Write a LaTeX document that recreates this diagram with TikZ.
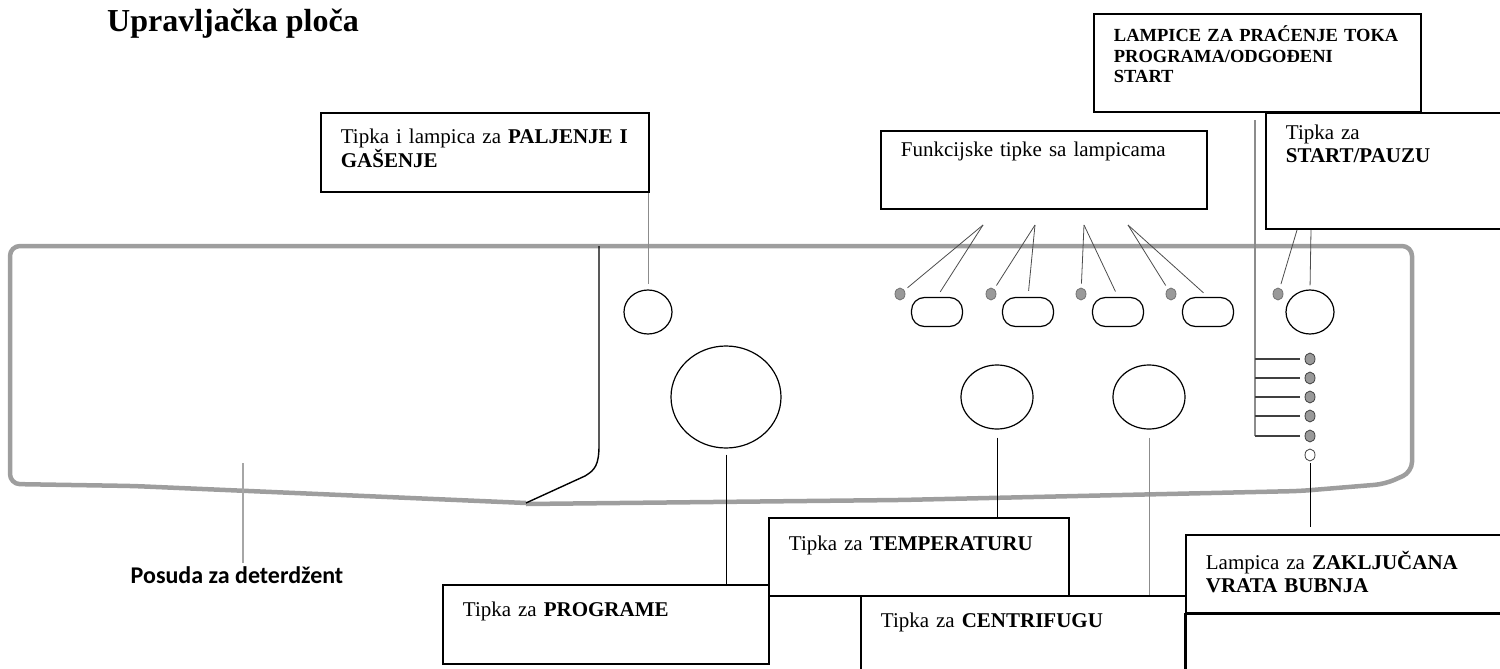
\documentclass[tikz,border=0pt]{standalone}
\usepackage{fontspec}
\setmainfont{Liberation Serif}
\newfontfamily\drawerfont{Carlito}
\usetikzlibrary{shapes.geometric}

\begin{document}
\begin{tikzpicture}[
  x=1pt, y=-1pt,
  panel/.style={draw=black!38, line width=4.5pt, rounded corners=10pt},
  callout/.style={draw, line width=1.8pt, fill=white, anchor=north west, align=left,
                  inner xsep=20pt, inner ysep=0pt, font=\fontsize{21}{24}\selectfont},
  knob/.style={draw, ellipse, line width=1.2pt, inner sep=0pt},
  pill/.style={draw, rounded corners=13pt, line width=1.2pt, minimum width=51pt,
               minimum height=29pt, inner sep=0pt},
  led/.style={draw=black!55, fill=black!40, ellipse, line width=0.8pt,
              minimum width=10pt, minimum height=12pt, inner sep=0pt},
  lamp/.style={led, draw=black!75},
  lead/.style={draw=black, line width=1pt},
  fan/.style={draw=black!70, line width=0.8pt, shorten >=4pt},
]
\useasboundingbox (0,0) rectangle (1500,669);
\clip (0,0) rectangle (1500,669);
% ---- title ----
\node[font=\bfseries\fontsize{32}{36}\selectfont, anchor=base west,
      inner sep=0pt] (title) at (107,32) {Upravljačka ploča};
% ---- panel outline and drawer ----
\draw[panel] (526,503) -- (133,486) -- (10,484) -- (10,246) -- (1412,246)
  -- (1412,472) -- (1385,484) -- (1300,491) -- (900,500) -- (526,504);
\draw[line width=1.4pt] (599,246) -- (599,445) .. controls (599,465) and (595,470) .. (585,476)
  -- (526,503);
% ---- buttons and knobs ----
\node[knob, minimum width=48pt, minimum height=44pt] (pwr) at (648,312) {};
\node[knob, minimum width=110pt, minimum height=102pt] (prog) at (726,397) {};
\node[knob, minimum width=72pt, minimum height=64pt] (tmp) at (997,397) {};
\node[knob, minimum width=72pt, minimum height=64pt] (spin) at (1149,397) {};
\node[knob, minimum width=48pt, minimum height=44pt] (strt) at (1310,312) {};
\foreach \i/\x in {1/900, 2/991, 3/1081, 4/1171} {
  \node[led] (l\i) at (\x,294) {};
  \node[pill] (p\i) at (\x+37,312) {};
}
\node[led] (ls) at (1278,294) {};
% ---- program lamps ----
\foreach \i/\y in {1/359, 2/378, 3/397, 4/416, 5/436}
  \node[lamp] (d\i) at (1310,\y) {};
\node[lamp, fill=white] (d6) at (1310,455) {};
\coordinate (brtop) at (1255,120);
\draw[draw=black!45, line width=1.3pt] (brtop) -- (brtop |- d5);
\foreach \i in {1,...,5}
  \draw[draw=black!75, line width=1.3pt, shorten >=5pt] (d\i -| brtop) -- (d\i);
% ---- leaders ----
\foreach \i/\x in {1/983, 2/1035, 3/1084, 4/1128} {
  \coordinate (fa\i) at (\x,225);
  \draw[fan] (fa\i) -- (l\i);
  \draw[fan, shorten >=6pt] (fa\i) -- (p\i.north);
}
\coordinate (sa1) at (1297,230);
\coordinate (sa2) at (1311,230);
\draw[fan] (sa1) -- (ls);
\draw[fan] (sa2) -- (strt.north);
\coordinate (drawer) at (243,463);
% ---- callout boxes ----
\node[callout, text width=288pt, text height=31pt, text depth=48pt] (pwrbox) at (320,112)
  {Tipka i lampica za \textbf{PALJENJE I}\\\textbf{GAŠENJE}};
\node[callout, text width=286pt, text height=26pt, text depth=52pt] (fnbox) at (880,130)
  {Funkcijske tipke sa lampicama};
\node[callout, font=\bfseries\fontsize{18.5}{20.5}\selectfont, text width=287pt,
      text height=28pt, text depth=70pt] (lampbox) at (1093,13)
  {LAMPICE ZA PRAĆENJE TOKA\\PROGRAMA/ODGOĐENI\\START};
\node[callout, font=\fontsize{21}{23}\selectfont, text width=230pt, text height=27pt,
      text depth=89pt] (startbox) at (1265,112) {Tipka za\\\textbf{START/PAUZU}};
\node[callout, text width=286pt, text height=32pt, text depth=47pt] (progbox) at (442,584)
  {Tipka za \textbf{PROGRAME}};
\node[callout, text width=260pt, text height=33pt, text depth=45pt] (tmpbox) at (768,517)
  {Tipka za \textbf{TEMPERATURU}};
\node[callout, text width=285pt, text height=32pt, text depth=70pt] (spinbox) at (860,595)
  {Tipka za \textbf{CENTRIFUGU}};
\node[callout, font=\fontsize{21}{23}\selectfont, text width=290pt, text height=35pt,
      text depth=43pt] (lockbox) at (1185,534)
  {Lampica za \textbf{ZAKLJUČANA}\\\textbf{VRATA BUBNJA}};
\draw[line width=1.8pt] (lockbox.south west) rectangle ++(340,100);
\node[font=\drawerfont\bfseries\fontsize{24}{26}\selectfont] (posuda) at (237,575)
  {Posuda za deterdžent};
% ---- leaders to boxes ----
\draw[lead, draw=black!45, shorten >=5pt] (pwrbox.south -| pwr) -- (pwr.north);
\draw[lead, shorten <=6pt] (prog.south) -- (prog.south |- progbox.north);
\draw[lead, shorten <=8pt] (tmp.south) -- (tmp.south |- tmpbox.north);
\draw[lead, draw=black!45, shorten <=8pt] (spin.south) -- (spin.south |- spinbox.north);
\draw[lead, shorten <=2pt, shorten >=7pt] (d6.south) -- (d6.south |- lockbox.north);
\draw[lead, draw=black!35, line width=1.2pt] (drawer) -- (drawer |- posuda.north);
\end{tikzpicture}
\end{document}
